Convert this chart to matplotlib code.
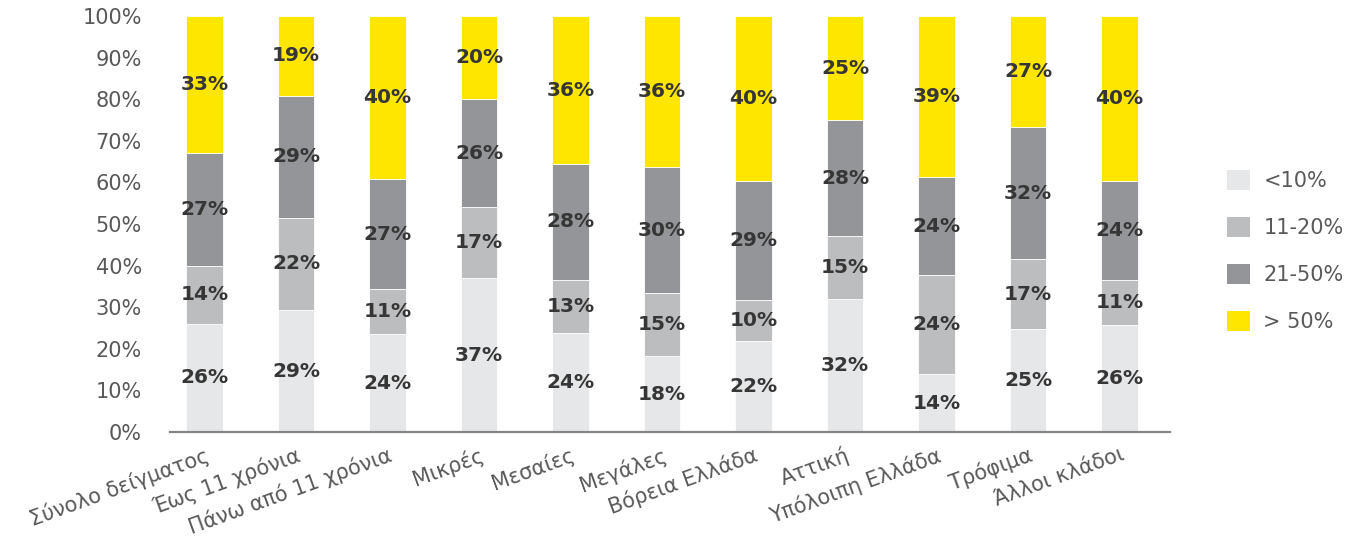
import numpy as np
import matplotlib
matplotlib.use("Agg")
import matplotlib.pyplot as plt
from matplotlib.patches import Patch

# κατηγορίες και ποσοστά ανά ομάδα
categories = ["Σύνολο δείγματος", "Έως 11 χρόνια", "Πάνω από 11 χρόνια", "Μικρές",
              "Μεσαίες", "Μεγάλες", "Βόρεια Ελλάδα", "Αττική", "Υπόλοιπη Ελλάδα",
              "Τρόφιμα", "Άλλοι κλάδοι"]
series_names = ["<10%", "11-20%", "21-50%", "> 50%"]
under_10 = [26, 29, 24, 37, 24, 18, 22, 32, 14, 25, 26]
from_11_20 = [14, 22, 11, 17, 13, 15, 10, 15, 24, 17, 11]
from_21_50 = [27, 29, 27, 26, 28, 30, 29, 28, 24, 32, 24]
over_50 = [33, 19, 40, 20, 36, 36, 40, 25, 39, 27, 40]
y_ticks = [0, 10, 20, 30, 40, 50, 60, 70, 80, 90, 100]

colors = ["#e6e7e8", "#bcbdbf", "#939598", "#ffe600"]
text_gray = "#595959"
label_dark = "#363636"

data = np.array([under_10, from_11_20, from_21_50, over_50], dtype=float)
# 100% stacked: κανονικοποίηση κάθε στήλης
shares = data / data.sum(axis=0) * 100

fig = plt.figure(figsize=(13.47, 5.54), dpi=100)
ax = fig.add_axes([0.126, 0.2202, 0.7426, 0.7509])

x = np.arange(len(categories))
bottom = np.zeros(len(categories))
for i in range(4):
    ax.bar(x, shares[i], width=0.4, bottom=bottom, color=colors[i],
           edgecolor="white", linewidth=0.6, zorder=2)
    for xi, b, h, v in zip(x, bottom, shares[i], data[i]):
        ax.text(xi, b + h / 2, f"{int(v)}%", ha="center", va="center",
                fontsize=14.5, fontweight="bold", color=label_dark, zorder=3)
    bottom += shares[i]

ax.set_ylim(0, 100)
ax.set_xlim(-0.38, 10.55)
ax.set_yticks(y_ticks)
ax.set_yticklabels([f"{t}%" for t in y_ticks], fontsize=15, color=text_gray)
ax.set_xticks(x)
ax.set_xticklabels(categories, rotation=20, ha="right", va="top",
                   rotation_mode="anchor", fontsize=15, color=text_gray)
ax.tick_params(axis="both", length=0)
ax.tick_params(axis="y", pad=20)
ax.tick_params(axis="x", pad=9)
for side in ["top", "right", "left"]:
    ax.spines[side].set_visible(False)
ax.spines["bottom"].set_color("#858585")
ax.spines["bottom"].set_linewidth(1.6)

handles = [Patch(facecolor=c, edgecolor="none") for c in colors]
fig.legend(handles, series_names, loc="upper left",
           bbox_to_anchor=(0.897, 0.727), frameon=False, fontsize=15,
           labelcolor=text_gray, handlelength=1.1, handleheight=1.1,
           labelspacing=1.25, handletextpad=0.65)

fig.savefig("out.png", dpi=100, facecolor="white")
